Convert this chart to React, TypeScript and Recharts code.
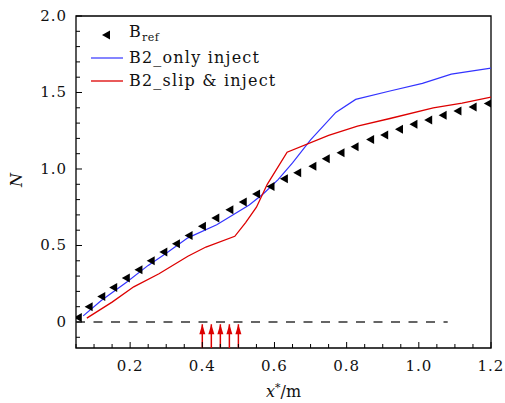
import React from "react";
import {
  ComposedChart,
  Scatter,
  Line,
  XAxis,
  YAxis,
  ReferenceLine,
  ReferenceArea,
} from "recharts";

// B_ref markers
const refX = [
  0.055, 0.085, 0.12, 0.153, 0.188, 0.223, 0.257, 0.292, 0.327, 0.362, 0.399,
  0.436, 0.475, 0.512, 0.549, 0.589, 0.626, 0.663, 0.705, 0.742, 0.783, 0.822,
  0.865, 0.904, 0.945, 0.985, 1.026, 1.066, 1.107, 1.149, 1.191,
];
const refN = [
  0.03, 0.1, 0.166, 0.225, 0.287, 0.341, 0.4, 0.457, 0.511, 0.566, 0.625, 0.68,
  0.734, 0.785, 0.837, 0.885, 0.936, 0.975, 1.018, 1.067, 1.106, 1.146, 1.193,
  1.222, 1.259, 1.292, 1.32, 1.351, 1.379, 1.405, 1.428,
];

// B2_only inject
const onlyX = [
  0.07, 0.12, 0.19, 0.25, 0.3, 0.36, 0.44, 0.53, 0.57, 0.61, 0.65, 0.7, 0.77,
  0.825, 0.92, 1.01, 1.09, 1.2,
];
const onlyN = [
  0.04, 0.14, 0.26, 0.37, 0.45, 0.55, 0.635, 0.765, 0.84, 0.93, 1.04, 1.19,
  1.37, 1.455, 1.51, 1.56, 1.62, 1.66,
];

// B2_slip & inject
const slipX = [
  0.08, 0.15, 0.21, 0.28, 0.36, 0.41, 0.49, 0.52, 0.55, 0.58, 0.635, 0.75, 0.83,
  0.92, 1.04, 1.12, 1.2,
];
const slipN = [
  0.025, 0.13, 0.23, 0.315, 0.43, 0.49, 0.56, 0.65, 0.75, 0.9, 1.11, 1.22, 1.28,
  1.33, 1.4, 1.43, 1.47,
];

// injection positions (red arrows)
const injectX = [0.4, 0.425, 0.45, 0.475, 0.5];

const xTicks = Array.from({ length: 24 }, (_, i) => +(0.05 + i * 0.05).toFixed(2));
const xLabels = [0.2, 0.4, 0.6, 0.8, 1.0, 1.2];
const yTicks = Array.from({ length: 22 }, (_, i) => +(-0.1 + i * 0.1).toFixed(1));
const yLabels = [0, 0.5, 1.0, 1.5, 2.0];

const refData = refX.map((x, i) => ({ x, y: refN[i] }));
const onlyData = onlyX.map((x, i) => ({ x, y: onlyN[i] }));
const slipData = slipX.map((x, i) => ({ x, y: slipN[i] }));

const font = "'DejaVu Serif', serif";

const XTick = (props: any) => {
  const { x, y, payload } = props;
  const v = payload.value;
  const major = xLabels.some((l) => Math.abs(l - v) < 1e-6);
  return (
    <g>
      <line x1={x} x2={x} y1={y} y2={y - (major ? 6 : 4)} stroke="#000" />
      {major && (
        <text
          x={x}
          y={y + 23}
          textAnchor="middle"
          fontFamily={font}
          fontSize={15}
          letterSpacing={1}
          fill="#111"
        >
          {v.toFixed(1)}
        </text>
      )}
    </g>
  );
};

const YTick = (props: any) => {
  const { x, y, payload } = props;
  const v = payload.value;
  const major = yLabels.some((l) => Math.abs(l - v) < 1e-6);
  return (
    <g>
      <line x1={x} x2={x + (major ? 6 : 4)} y1={y} y2={y} stroke="#000" />
      {major && (
        <text
          x={x - 9}
          y={y + 5}
          textAnchor="end"
          fontFamily={font}
          fontSize={15}
          letterSpacing={1}
          fill="#111"
        >
          {v === 0 ? "0" : v.toFixed(1)}
        </text>
      )}
    </g>
  );
};

const LeftTriangle = (props: any) => {
  const { cx, cy } = props;
  return (
    <polygon
      points={`${cx - 4},${cy} ${cx + 4},${cy - 4.5} ${cx + 4},${cy + 4.5}`}
      fill="#000"
    />
  );
};

const ArrowHead = (props: any) => {
  const { cx, cy, index } = props;
  if (index !== 1) return <g key={`a${index}`} />;
  return (
    <polygon
      key={`a${index}`}
      points={`${cx},${cy} ${cx - 3},${cy + 10} ${cx + 3},${cy + 10}`}
      fill="#dd0000"
    />
  );
};

const Legend = () => (
  <div
    style={{
      position: "absolute",
      left: 88,
      top: 23,
      fontFamily: font,
      fontSize: 16,
      letterSpacing: 1.2,
      color: "#111",
      lineHeight: "23px",
    }}
  >
    <div style={{ display: "flex", alignItems: "center", height: 23 }}>
      <svg width={41} height={14}>
        <polygon points="14,7 22,2.5 22,11.5" fill="#000" />
      </svg>
      <span>
        B<sub style={{ fontSize: 11, letterSpacing: 0.5 }}>ref</sub>
      </span>
    </div>
    <div style={{ display: "flex", alignItems: "center", height: 23 }}>
      <svg width={41} height={14}>
        <line x1={3} x2={35} y1={7} y2={7} stroke="#3333ff" strokeWidth={1.2} />
      </svg>
      <span>B2_only inject</span>
    </div>
    <div style={{ display: "flex", alignItems: "center", height: 23 }}>
      <svg width={41} height={14}>
        <line x1={3} x2={35} y1={7} y2={7} stroke="#dd0000" strokeWidth={1.3} />
      </svg>
      <span>B2_slip &amp; inject</span>
    </div>
  </div>
);

const XLabel = (props: any) => {
  const { viewBox } = props;
  const cx = viewBox.x + viewBox.width / 2;
  return (
    <text x={cx} y={397} textAnchor="middle" fontFamily={font} fontSize={16} fill="#111">
      <tspan fontStyle="italic">x</tspan>
      <tspan dy={-6} fontSize={11}>*</tspan>
      <tspan dy={6}>/m</tspan>
    </text>
  );
};

const YLabel = () => (
  <text
    x={22}
    y={180}
    textAnchor="middle"
    fontFamily={font}
    fontSize={16}
    fontStyle="italic"
    fill="#111"
    transform="rotate(-90, 22, 180)"
  >
    N
  </text>
);

export default function App() {
  return (
    <div style={{ position: "absolute", left: 0, top: 0, width: 505, height: 403, background: "#fff" }}>
      <ComposedChart
        width={505}
        height={403}
        margin={{ top: 16, right: 14, left: 0, bottom: 0 }}
      >
        <XAxis
          type="number"
          dataKey="x"
          domain={[0.05, 1.2]}
          ticks={xTicks}
          interval={0}
          allowDataOverflow
          height={55}
          axisLine={false}
          tickLine={false}
          tickSize={0}
          tickMargin={0}
          tick={<XTick />}
          label={<XLabel />}
        />
        <YAxis
          type="number"
          dataKey="y"
          domain={[-0.17, 2.0]}
          ticks={yTicks}
          interval={0}
          allowDataOverflow
          width={76}
          axisLine={false}
          tickLine={false}
          tickSize={0}
          tickMargin={0}
          tick={<YTick />}
          label={<YLabel />}
        />
        <ReferenceLine
          segment={[
            { x: 0.05, y: 0 },
            { x: 1.08, y: 0 },
          ]}
          stroke="#333"
          strokeWidth={1.3}
          strokeDasharray="9 8.5"
        />
        {injectX.map((x) => (
          <Line
            key={`arrow-${x}`}
            data={[
              { x, y: -0.17 },
              { x, y: -0.015 },
            ]}
            dataKey="y"
            stroke="#dd0000"
            strokeWidth={1.5}
            dot={<ArrowHead />}
            activeDot={false}
            isAnimationActive={false}
            legendType="none"
          />
        ))}
        <Line
          data={onlyData}
          dataKey="y"
          stroke="#3333ff"
          strokeWidth={1.2}
          dot={false}
          activeDot={false}
          isAnimationActive={false}
        />
        <Line
          data={slipData}
          dataKey="y"
          stroke="#dd0000"
          strokeWidth={1.3}
          dot={false}
          activeDot={false}
          isAnimationActive={false}
        />
        <Scatter data={refData} shape={<LeftTriangle />} isAnimationActive={false} />
        <ReferenceArea
          x1={0.05}
          x2={1.2}
          y1={-0.17}
          y2={2.0}
          fill="none"
          stroke="#000"
          strokeWidth={1.3}
        />
      </ComposedChart>
      <Legend />
    </div>
  );
}
